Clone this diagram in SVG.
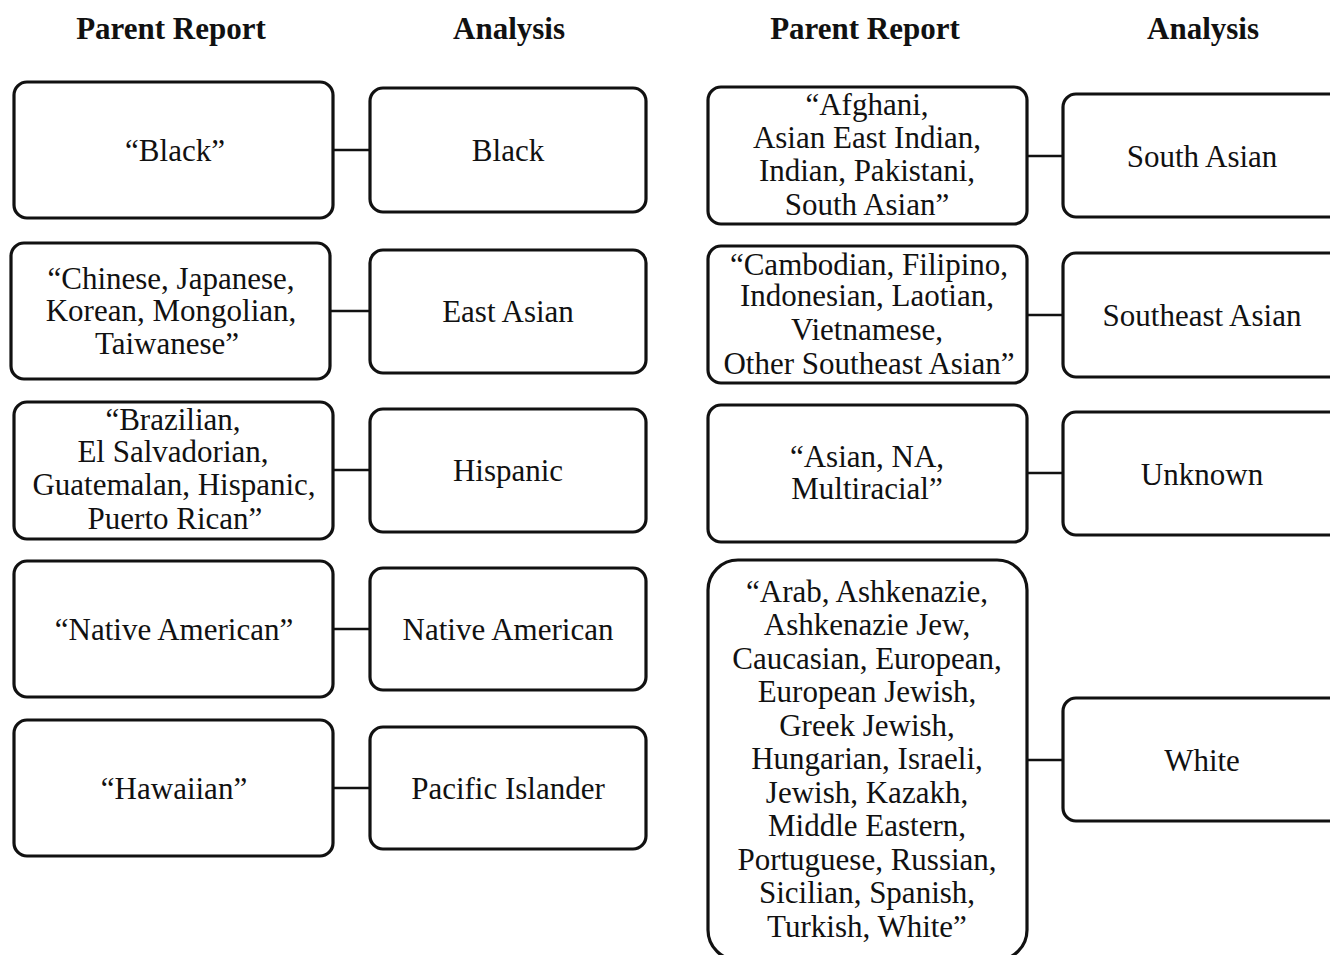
<svg xmlns="http://www.w3.org/2000/svg" width="1330" height="955" viewBox="0 0 1330 955">
<style>
.box{fill:#fff;stroke:#111;stroke-width:3.2}
.t{font-family:"Liberation Serif","Times New Roman",serif;font-size:31px;fill:#111;text-anchor:middle}
.h{font-family:"Liberation Serif","Times New Roman",serif;font-size:31px;font-weight:bold;fill:#111;text-anchor:middle}
.c{stroke:#111;stroke-width:2.5;fill:none}
</style>
<rect width="1330" height="955" fill="#fff"/>
<g id="headers">
<text class="h" x="171" y="39">Parent Report</text>
<text class="h" x="509" y="39">Analysis</text>
<text class="h" x="865" y="39">Parent Report</text>
<text class="h" x="1203" y="39">Analysis</text>
</g>
<g id="connectors">
<line class="c" x1="333" y1="150" x2="370" y2="150"/>
<line class="c" x1="330" y1="311" x2="370" y2="311"/>
<line class="c" x1="333" y1="470" x2="370" y2="470"/>
<line class="c" x1="333" y1="629" x2="370" y2="629"/>
<line class="c" x1="333" y1="788" x2="370" y2="788"/>
<line class="c" x1="1027" y1="156" x2="1063" y2="156"/>
<line class="c" x1="1027" y1="315" x2="1063" y2="315"/>
<line class="c" x1="1027" y1="473" x2="1063" y2="473"/>
<line class="c" x1="1027" y1="760" x2="1063" y2="760"/>
</g>
<g id="p-black"><rect class="box" x="14" y="82" width="319" height="136" rx="13"/><text class="t" x="175" y="161">“Black”</text></g>
<g id="a-black"><rect class="box" x="370" y="88" width="276" height="124" rx="13"/><text class="t" x="508" y="161">Black</text></g>
<g id="p-eastasian"><rect class="box" x="11" y="243" width="319" height="136" rx="13"/><text class="t"><tspan x="171" y="289">“Chinese, Japanese,</tspan><tspan x="171" y="321">Korean, Mongolian,</tspan><tspan x="167" y="354">Taiwanese”</tspan></text></g>
<g id="a-eastasian"><rect class="box" x="370" y="250" width="276" height="123" rx="13"/><text class="t" x="508" y="322">East Asian</text></g>
<g id="p-hispanic"><rect class="box" x="14" y="402" width="319" height="137" rx="13"/><text class="t"><tspan x="173" y="430">“Brazilian,</tspan><tspan x="173" y="462">El Salvadorian,</tspan><tspan x="174" y="495">Guatemalan, Hispanic,</tspan><tspan x="175" y="529">Puerto Rican”</tspan></text></g>
<g id="a-hispanic"><rect class="box" x="370" y="409" width="276" height="123" rx="13"/><text class="t" x="508" y="481">Hispanic</text></g>
<g id="p-native"><rect class="box" x="14" y="561" width="319" height="136" rx="13"/><text class="t" x="174" y="640">“Native American”</text></g>
<g id="a-native"><rect class="box" x="370" y="568" width="276" height="122" rx="13"/><text class="t" x="508" y="640">Native American</text></g>
<g id="p-hawaiian"><rect class="box" x="14" y="720" width="319" height="136" rx="13"/><text class="t" x="174" y="799">“Hawaiian”</text></g>
<g id="a-pacific"><rect class="box" x="370" y="727" width="276" height="122" rx="13"/><text class="t" x="508" y="799">Pacific Islander</text></g>
<g id="p-southasian"><rect class="box" x="708" y="87" width="319" height="137" rx="13"/><text class="t"><tspan x="867" y="115">“Afghani,</tspan><tspan x="867" y="148">Asian East Indian,</tspan><tspan x="867" y="181">Indian, Pakistani,</tspan><tspan x="867" y="215">South Asian”</tspan></text></g>
<g id="a-southasian"><rect class="box" x="1063" y="94" width="280" height="123" rx="13"/><text class="t" x="1202" y="167">South Asian</text></g>
<g id="p-seasian"><rect class="box" x="708" y="246" width="319" height="137" rx="13"/><text class="t"><tspan x="869" y="275">“Cambodian, Filipino,</tspan><tspan x="867" y="306">Indonesian, Laotian,</tspan><tspan x="867" y="340">Vietnamese,</tspan><tspan x="869" y="374">Other Southeast Asian”</tspan></text></g>
<g id="a-seasian"><rect class="box" x="1063" y="253" width="280" height="124" rx="13"/><text class="t" x="1202" y="326">Southeast Asian</text></g>
<g id="p-unknown"><rect class="box" x="708" y="405" width="319" height="137" rx="13"/><text class="t"><tspan x="867" y="467">“Asian, NA,</tspan><tspan x="867" y="499">Multiracial”</tspan></text></g>
<g id="a-unknown"><rect class="box" x="1063" y="412" width="280" height="123" rx="13"/><text class="t" x="1202" y="485">Unknown</text></g>
<g id="p-white"><rect class="box" x="708" y="560" width="319" height="400" rx="30"/><text class="t"><tspan x="867" y="602">“Arab, Ashkenazie,</tspan><tspan x="867" y="635">Ashkenazie Jew,</tspan><tspan x="867" y="669">Caucasian, European,</tspan><tspan x="867" y="702">European Jewish,</tspan><tspan x="867" y="736">Greek Jewish,</tspan><tspan x="867" y="769">Hungarian, Israeli,</tspan><tspan x="867" y="803">Jewish, Kazakh,</tspan><tspan x="867" y="836">Middle Eastern,</tspan><tspan x="867" y="870">Portuguese, Russian,</tspan><tspan x="867" y="903">Sicilian, Spanish,</tspan><tspan x="867" y="937">Turkish, White”</tspan></text></g>
<g id="a-white"><rect class="box" x="1063" y="698" width="280" height="123" rx="13"/><text class="t" x="1202" y="771">White</text></g>
</svg>
